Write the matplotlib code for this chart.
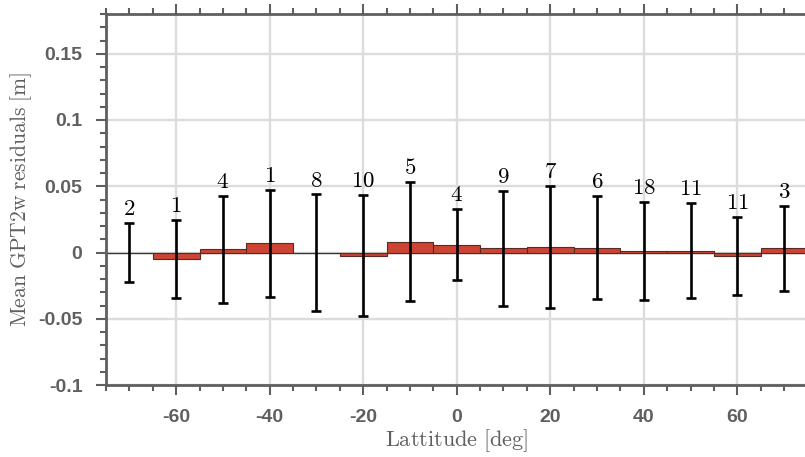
import matplotlib
matplotlib.use("Agg")
import matplotlib.pyplot as plt
import numpy as np
from matplotlib.ticker import MultipleLocator

plt.rcParams['mathtext.fontset'] = 'cm'

# Latitude bins (centres, 10 deg wide)
lat = [-70, -60, -50, -40, -30, -20, -10, 0, 10, 20, 30, 40, 50, 60, 70]
# mean residual per bin [m]
mean_res = [0.0, -0.005, 0.0023, 0.0068, 0.0, -0.0023, 0.008, 0.006,
            0.0031, 0.0044, 0.0035, 0.0009, 0.0014, -0.0025, 0.0033]
# standard deviation per bin [m]
std_res = [0.0222, 0.0297, 0.0404, 0.0404, 0.0438, 0.0454, 0.0449, 0.0266,
           0.0435, 0.046, 0.0389, 0.037, 0.0357, 0.0293, 0.032]
# number of stations per bin
counts = [2, 1, 4, 1, 8, 10, 5, 4, 9, 7, 6, 18, 11, 11, 3]

gray = '#5f5f5f'

fig = plt.figure(figsize=(8.05, 4.57), dpi=100)
ax = fig.add_axes([106/805, 1-385/457, 1.003-106/805, (385-14)/457])

ax.axhline(0, color='#7f7f7f', lw=1.0, zorder=1)
ax.bar(lat, mean_res, width=10, color='#cb4434', edgecolor='#5a2a22', lw=0.8, zorder=2)
ax.errorbar(lat, mean_res, yerr=std_res, fmt='none', ecolor='black',
            elinewidth=1.9, capsize=3.6, capthick=1.9, zorder=3)

for x, m, s, n in zip(lat, mean_res, std_res, counts):
    ax.text(x, m + s + 0.006, f'${n}$', ha='center', va='baseline',
            fontsize=16.5, color='black', zorder=4)

ax.set_xlim(-75, 75)
ax.set_ylim(-0.1, 0.18)
ax.set_xticks([-60, -40, -20, 0, 20, 40, 60])
ax.set_yticks([-0.1, -0.05, 0, 0.05, 0.1, 0.15])
ax.set_yticklabels(['-0.1', '-0.05', '0', '0.05', '0.1', '0.15'])
ax.set_xticklabels(['-60', '-40', '-20', '0', '20', '40', '60'])
ax.xaxis.set_minor_locator(MultipleLocator(5))
ax.yaxis.set_minor_locator(MultipleLocator(0.01))

ax.tick_params(which='both', direction='out', top=True, right=False,
               color=gray, width=1.5)
ax.tick_params(which='major', length=7, labelsize=14, labelcolor=gray, pad=10)
ax.tick_params(which='minor', length=4)
for lab in ax.get_xticklabels() + ax.get_yticklabels():
    lab.set_fontfamily('Liberation Sans')
    lab.set_fontweight('bold')

for side in ['left', 'top', 'bottom', 'right']:
    ax.spines[side].set_color(gray)
    ax.spines[side].set_linewidth(2)

ax.grid(True, which='major', color='#dcdcdc', lw=1.7, zorder=0)
ax.set_axisbelow(True)

ax.set_xlabel(r'$\mathrm{Lattitude\ [deg]}$', fontsize=16, color=gray, labelpad=1)
ax.set_ylabel(r'$\mathrm{Mean\ GPT2w\ residuals\ [m]}$', fontsize=15.5, color=gray, labelpad=3)

fig.savefig('out.png', dpi=100)
